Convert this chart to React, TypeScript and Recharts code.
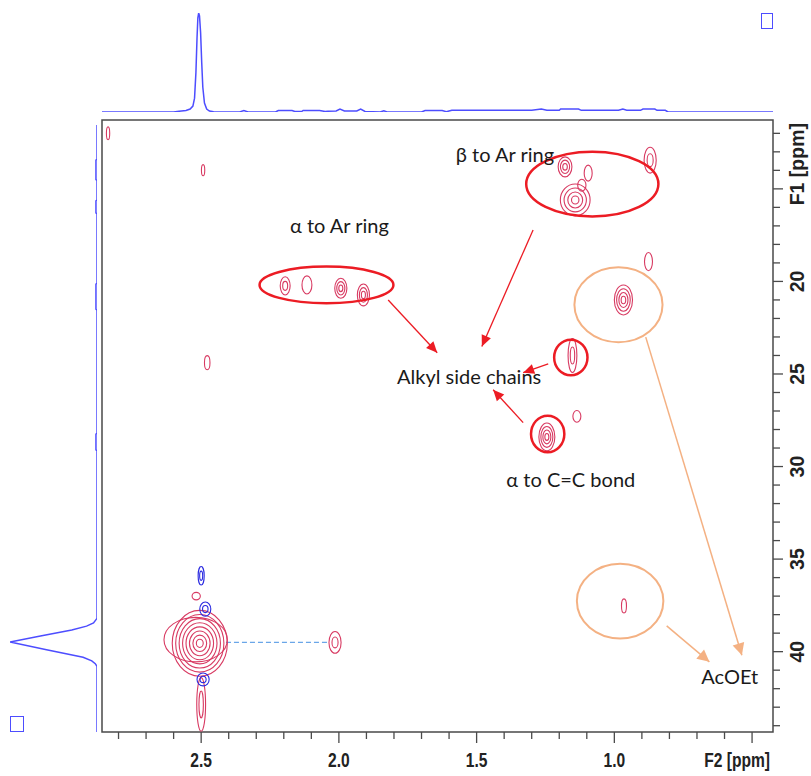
import React from "react";
import {
  LineChart,
  Line,
  ScatterChart,
  Scatter,
  XAxis,
  YAxis,
  ReferenceArea,
  ReferenceLine,
} from "recharts";

const W = 811;
const H = 776;
// plot box of the 2D map, page pixels
const BOX = { left: 102, right: 773, top: 120, bottom: 732 };

const F2_DOMAIN: [number, number] = [0.424, 2.86];
const F1_DOMAIN: [number, number] = [11.28, 44.34];

// px per ppm, used to size contour rings and arrow heads
const KX = (BOX.right - BOX.left) / (F2_DOMAIN[1] - F2_DOMAIN[0]);
const KY = (BOX.bottom - BOX.top) / (F1_DOMAIN[1] - F1_DOMAIN[0]);

const f2Ticks = [0.5, 0.6, 0.7, 0.8, 0.9, 1.0, 1.1, 1.2, 1.3, 1.4, 1.5, 1.6, 1.7, 1.8, 1.9, 2.0, 2.1, 2.2, 2.3, 2.4, 2.5, 2.6, 2.7, 2.8];
const f2Major = [0.5, 1.0, 1.5, 2.0, 2.5];
const f2Labels = [1.0, 1.5, 2.0, 2.5];
const f1Ticks = [12, 13, 14, 15, 16, 17, 18, 19, 20, 21, 22, 23, 24, 25, 26, 27, 28, 29, 30, 31, 32, 33, 34, 35, 36, 37, 38, 39, 40, 41, 42, 43, 44];
const f1Major = [15, 20, 25, 30, 35, 40];
const f1Labels = [20, 25, 30, 35, 40];

// 1H projection (F2 ppm, intensity %)
const topPpm = [2.86, 2.7, 2.6, 2.58, 2.555, 2.54, 2.53, 2.524, 2.519, 2.515, 2.512, 2.509, 2.506, 2.502, 2.498, 2.494, 2.488, 2.48, 2.47, 2.455, 2.44, 2.36, 2.345, 2.33, 2.23, 2.22, 2.17, 2.16, 2.135, 2.13, 2.07, 2.05, 2.04, 2.01, 1.996, 1.98, 1.935, 1.921, 1.905, 1.85, 1.837, 1.825, 1.7, 1.687, 1.625, 1.61, 1.59, 1.3, 1.265, 1.245, 1.2, 1.195, 1.13, 1.12, 0.985, 0.969, 0.955, 0.905, 0.896, 0.853, 0.845, 0.815, 0.805, 0.424];
const topInt = [0, 0, 0, 0.8, 1.5, 3, 6, 14, 40, 75, 95, 100, 97, 80, 50, 25, 9, 3, 1, 0.3, 0, 0, 1.5, 0, 0, 1.5, 1.5, 0.5, 0.5, 1.5, 1.5, 0.5, 0.8, 1, 3, 1, 1, 3, 0.5, 0, 1.2, 0, 0, 1.5, 1.5, 0.3, 1.7, 1.7, 3, 1.7, 1.7, 3, 3, 1.7, 1.7, 3, 1.7, 1.7, 3, 3, 1.7, 1.7, 0, 0];

// 13C projection (F1 ppm, intensity %)
const leftPpm = [11.55, 13.4, 13.45, 14.5, 14.55, 15.6, 15.65, 16.3, 16.35, 20.1, 20.15, 21.5, 21.55, 28.2, 28.25, 29.1, 29.15, 38.2, 38.45, 38.62, 38.83, 39.15, 39.48, 39.9, 40.3, 40.5, 40.65, 40.8, 44.34];
const leftInt = [0, 0, 1.2, 1.2, 0, 0, 1.2, 1.2, 0, 0, 1.2, 1.2, 0, 0, 1.2, 1.2, 0, 0, 4, 12, 29, 65, 100, 58, 16, 6, 2, 0, 0];

// cross peaks: [F2, F1, half-width F2, half-width F1, contour levels]
const positivePeaks = [
  [2.838, 12.0, 0.006, 0.35, 1],
  [2.493, 13.99, 0.006, 0.3, 1],
  [2.478, 24.39, 0.01, 0.38, 1],
  [1.179, 13.81, 0.025, 0.54, 3],
  [1.095, 14.15, 0.0145, 0.43, 1],
  [1.142, 15.6, 0.054, 0.86, 4],
  [1.118, 14.8, 0.015, 0.32, 1],
  [0.87, 13.45, 0.022, 0.7, 2],
  [2.195, 20.24, 0.018, 0.49, 2],
  [2.116, 20.19, 0.018, 0.49, 1],
  [1.993, 20.37, 0.022, 0.54, 3],
  [1.911, 20.73, 0.022, 0.59, 3],
  [0.876, 18.93, 0.0145, 0.49, 1],
  [0.967, 21.0, 0.033, 0.81, 4],
  [1.152, 24.0, 0.016, 0.92, 2],
  [1.245, 28.4, 0.029, 0.75, 4],
  [1.136, 27.29, 0.0145, 0.32, 1],
  [0.965, 37.53, 0.009, 0.38, 1],
  [2.014, 39.5, 0.022, 0.59, 2],
  [2.505, 39.55, 0.1, 1.78, 8],
  [2.52, 39.35, 0.115, 1.2, 1],
  [2.5, 42.85, 0.016, 1.45, 2],
  [2.518, 37.0, 0.015, 0.2, 1],
];
const negativePeaks = [
  [2.5, 35.9, 0.011, 0.5, 2],
  [2.485, 37.7, 0.02, 0.38, 2],
  [2.493, 41.5, 0.022, 0.35, 2],
];

// annotation rings: [F2, F1, radius F2, radius F1]
const redRings = [
  [1.08, 14.74, 0.24, 1.75],
  [2.045, 20.19, 0.243, 0.99],
  [1.158, 24.11, 0.0605, 0.96],
  [1.242, 28.24, 0.0605, 0.99],
];
const orangeRings = [
  [0.985, 21.26, 0.16, 2.02],
  [0.979, 37.27, 0.157, 2.02],
];

// arrows: [from F2, from F1, to F2, to F1]
const redArrows = [
  [1.295, 17.22, 1.481, 23.51],
  [1.821, 21.0, 1.643, 23.85],
  [1.24, 24.45, 1.331, 24.93],
  [1.331, 27.63, 1.44, 25.85],
];
const orangeArrows = [
  [0.886, 23.01, 0.537, 40.19],
  [0.81, 38.61, 0.655, 40.55],
];

const notes = [
  { text: "β to Ar ring", x: 1.397, y: 13.53 },
  { text: "α to Ar ring", x: 1.998, y: 17.38 },
  { text: "Alkyl side chains", x: 1.527, y: 25.54 },
  { text: "α to C=C bond", x: 1.158, y: 31.09 },
  { text: "AcOEt", x: 0.581, y: 41.75 },
];

const FRAME = "#4a4a4a";
const SPEC_BLUE = "#4d4dff";
const POS = "#d83a62";
const NEG = "#2a2ae0";
const RED = "#ec1c24";
const ORANGE = "#f4b183";
const AXIS_FONT = "'Liberation Sans', Arial, sans-serif";
const NOTE_FONT = "Lato, 'Open Sans', sans-serif";

const toPeak = (p: number[]) => ({ x: p[0], y: p[1], wx: p[2], wy: p[3], n: p[4] });
const toRing = (r: number[]) => ({ x: r[0], y: r[1], wx: r[2], wy: r[3] });
const toArrow = (a: number[]) => {
  const ang = Math.atan2((a[3] - a[1]) * KY, -(a[2] - a[0]) * KX);
  return [
    { x: a[0], y: a[1], head: false, ang },
    { x: a[2], y: a[3], head: true, ang },
  ];
};

const contourShape = (color: string) => (props: any) => {
  const { cx, cy, payload } = props;
  const rings = [];
  for (let i = 0; i < payload.n; i++) {
    const s = (payload.n - i) / payload.n;
    rings.push(
      <ellipse key={i} cx={cx} cy={cy} rx={payload.wx * KX * s} ry={payload.wy * KY * s}
        fill="none" stroke={color} strokeWidth={1.1} />
    );
  }
  return <g>{rings}</g>;
};

const ringShape = (color: string, width: number) => (props: any) => (
  <ellipse cx={props.cx} cy={props.cy} rx={props.payload.wx * KX} ry={props.payload.wy * KY}
    fill="none" stroke={color} strokeWidth={width} />
);

const headShape = (color: string, len: number, half: number) => (props: any) => {
  if (!props.payload.head) return <g />;
  const c = Math.cos(props.payload.ang);
  const s = Math.sin(props.payload.ang);
  const bx = props.cx - c * len;
  const by = props.cy - s * len;
  const pts = `${props.cx},${props.cy} ${bx - s * half},${by + c * half} ${bx + s * half},${by - c * half}`;
  return <polygon points={pts} fill={color} />;
};

const noteShape = (props: any) => (
  <text x={props.cx} y={props.cy} textAnchor="middle" fontFamily={NOTE_FONT} fontSize={20} fill="#1a1a1a">
    {props.payload.text}
  </text>
);

const F2Tick = ({ x, y, payload }: any) => {
  const v = payload.value;
  const major = f2Major.includes(v);
  return (
    <g>
      <line x1={x} y1={y} x2={x} y2={y + (major ? 11 : 7)} stroke={FRAME} strokeWidth={1.3} />
      {f2Labels.includes(v) && (
        <text transform={`translate(${x},${y + 35}) scale(0.8,1)`} textAnchor="middle"
          fontFamily={AXIS_FONT} fontWeight="bold" fontSize={19.5} fill="#222">
          {v.toFixed(1)}
        </text>
      )}
    </g>
  );
};

const F1Tick = ({ x, y, payload }: any) => {
  const v = payload.value;
  const major = f1Major.includes(v);
  return (
    <g>
      <line x1={x} y1={y} x2={x + (major ? 10 : 7)} y2={y} stroke={FRAME} strokeWidth={1.3} />
      {f1Labels.includes(v) && (
        <text transform={`translate(${x + 31},${y}) rotate(-90)`} textAnchor="middle"
          fontFamily={AXIS_FONT} fontWeight="bold" fontSize={19.5} fill="#222">
          {v}
        </text>
      )}
    </g>
  );
};

const F2Title = (props: any) => {
  const vb = props.viewBox;
  return (
    <text transform={`translate(${vb.x + vb.width - 3},${vb.y + 35}) scale(0.8,1)`} textAnchor="end"
      fontFamily={AXIS_FONT} fontWeight="bold" fontSize={19.5} fill="#222">
      F2 [ppm]
    </text>
  );
};

const F1Title = (props: any) => {
  const vb = props.viewBox;
  return (
    <text transform={`translate(${vb.x + 31},${vb.y + 3}) rotate(-90)`} textAnchor="end"
      fontFamily={AXIS_FONT} fontWeight="bold" fontSize={19.5} fill="#222">
      F1 [ppm]
    </text>
  );
};

const square = (left: number, top: number, w: number, h: number): React.CSSProperties => ({
  position: "absolute", left, top, width: w, height: h, border: `1.5px solid ${SPEC_BLUE}`, boxSizing: "border-box",
});

export default function App() {
  const topData = topPpm.map((x, i) => ({ x, v: topInt[i] }));
  const leftData = leftPpm.map((y, i) => ({ y, v: leftInt[i] }));
  const pos = positivePeaks.map(toPeak);
  const neg = negativePeaks.map(toPeak);

  return (
    <div style={{ position: "absolute", left: 0, top: 0, width: W, height: H, background: "#fff" }}>
      {/* 1H projection */}
      <div style={{ position: "absolute", left: 0, top: 0 }}>
        <LineChart width={W} height={118} data={topData}
          margin={{ top: 13, right: W - BOX.right, bottom: 6, left: BOX.left }}>
          <XAxis type="number" dataKey="x" domain={F2_DOMAIN} reversed hide allowDataOverflow />
          <YAxis type="number" domain={[0, 100]} hide allowDataOverflow />
          <Line type="linear" dataKey="v" stroke={SPEC_BLUE} strokeWidth={1.5} dot={false} isAnimationActive={false} />
        </LineChart>
      </div>

      {/* 13C projection */}
      <div style={{ position: "absolute", left: 0, top: 0 }}>
        <ScatterChart width={BOX.left} height={H}
          margin={{ top: BOX.top, right: 5, bottom: H - BOX.bottom, left: 10 }}>
          <XAxis type="number" dataKey="v" domain={[0, 100]} reversed hide allowDataOverflow />
          <YAxis type="number" dataKey="y" domain={F1_DOMAIN} reversed hide allowDataOverflow />
          <Scatter data={leftData} line={{ stroke: SPEC_BLUE, strokeWidth: 1.5 }} fill={SPEC_BLUE}
            shape={() => <g />} isAnimationActive={false} />
        </ScatterChart>
      </div>

      {/* 2D map */}
      <div style={{ position: "absolute", left: 0, top: 0 }}>
        <ScatterChart width={W} height={H} margin={{ top: BOX.top, right: 0, bottom: 0, left: BOX.left }}>
          <XAxis type="number" dataKey="x" domain={F2_DOMAIN} reversed allowDataOverflow
            ticks={f2Ticks} interval={0} tickSize={0} tickMargin={0} height={H - BOX.bottom}
            axisLine={false} tickLine={false} tick={<F2Tick />} label={{ content: F2Title }} />
          <YAxis type="number" dataKey="y" domain={F1_DOMAIN} reversed allowDataOverflow orientation="right"
            ticks={f1Ticks} interval={0} tickSize={0} tickMargin={0} width={W - BOX.right}
            axisLine={false} tickLine={false} tick={<F1Tick />} label={{ content: F1Title }} />

          <ReferenceArea x1={F2_DOMAIN[1]} x2={F2_DOMAIN[0]} y1={F1_DOMAIN[0]} y2={F1_DOMAIN[1]}
            fill="none" stroke={FRAME} strokeWidth={1.5} ifOverflow="visible" />

          <Scatter data={pos} shape={contourShape(POS)} isAnimationActive={false} />
          <Scatter data={neg} shape={contourShape(NEG)} isAnimationActive={false} />

          <ReferenceLine segment={[{ x: 2.41, y: 39.5 }, { x: 2.035, y: 39.5 }]}
            stroke="#6aa6e8" strokeWidth={1.2} strokeDasharray="5 3" />

          <Scatter data={redRings.map(toRing)} shape={ringShape(RED, 2.5)} isAnimationActive={false} />
          <Scatter data={orangeRings.map(toRing)} shape={ringShape(ORANGE, 2)} isAnimationActive={false} />

          {redArrows.map((a, i) => (
            <Scatter key={`r${i}`} data={toArrow(a)} fill={RED} line={{ stroke: RED, strokeWidth: 1.3 }}
              shape={headShape(RED, 11, 5)} isAnimationActive={false} />
          ))}
          {orangeArrows.map((a, i) => (
            <Scatter key={`o${i}`} data={toArrow(a)} fill={ORANGE} line={{ stroke: ORANGE, strokeWidth: 1.5 }}
              shape={headShape(ORANGE, 12, 6)} isAnimationActive={false} />
          ))}

          <Scatter data={notes} shape={noteShape} isAnimationActive={false} />
        </ScatterChart>
      </div>

      <div style={square(761, 13, 12, 16)} />
      <div style={square(10, 716, 14, 16)} />
    </div>
  );
}
